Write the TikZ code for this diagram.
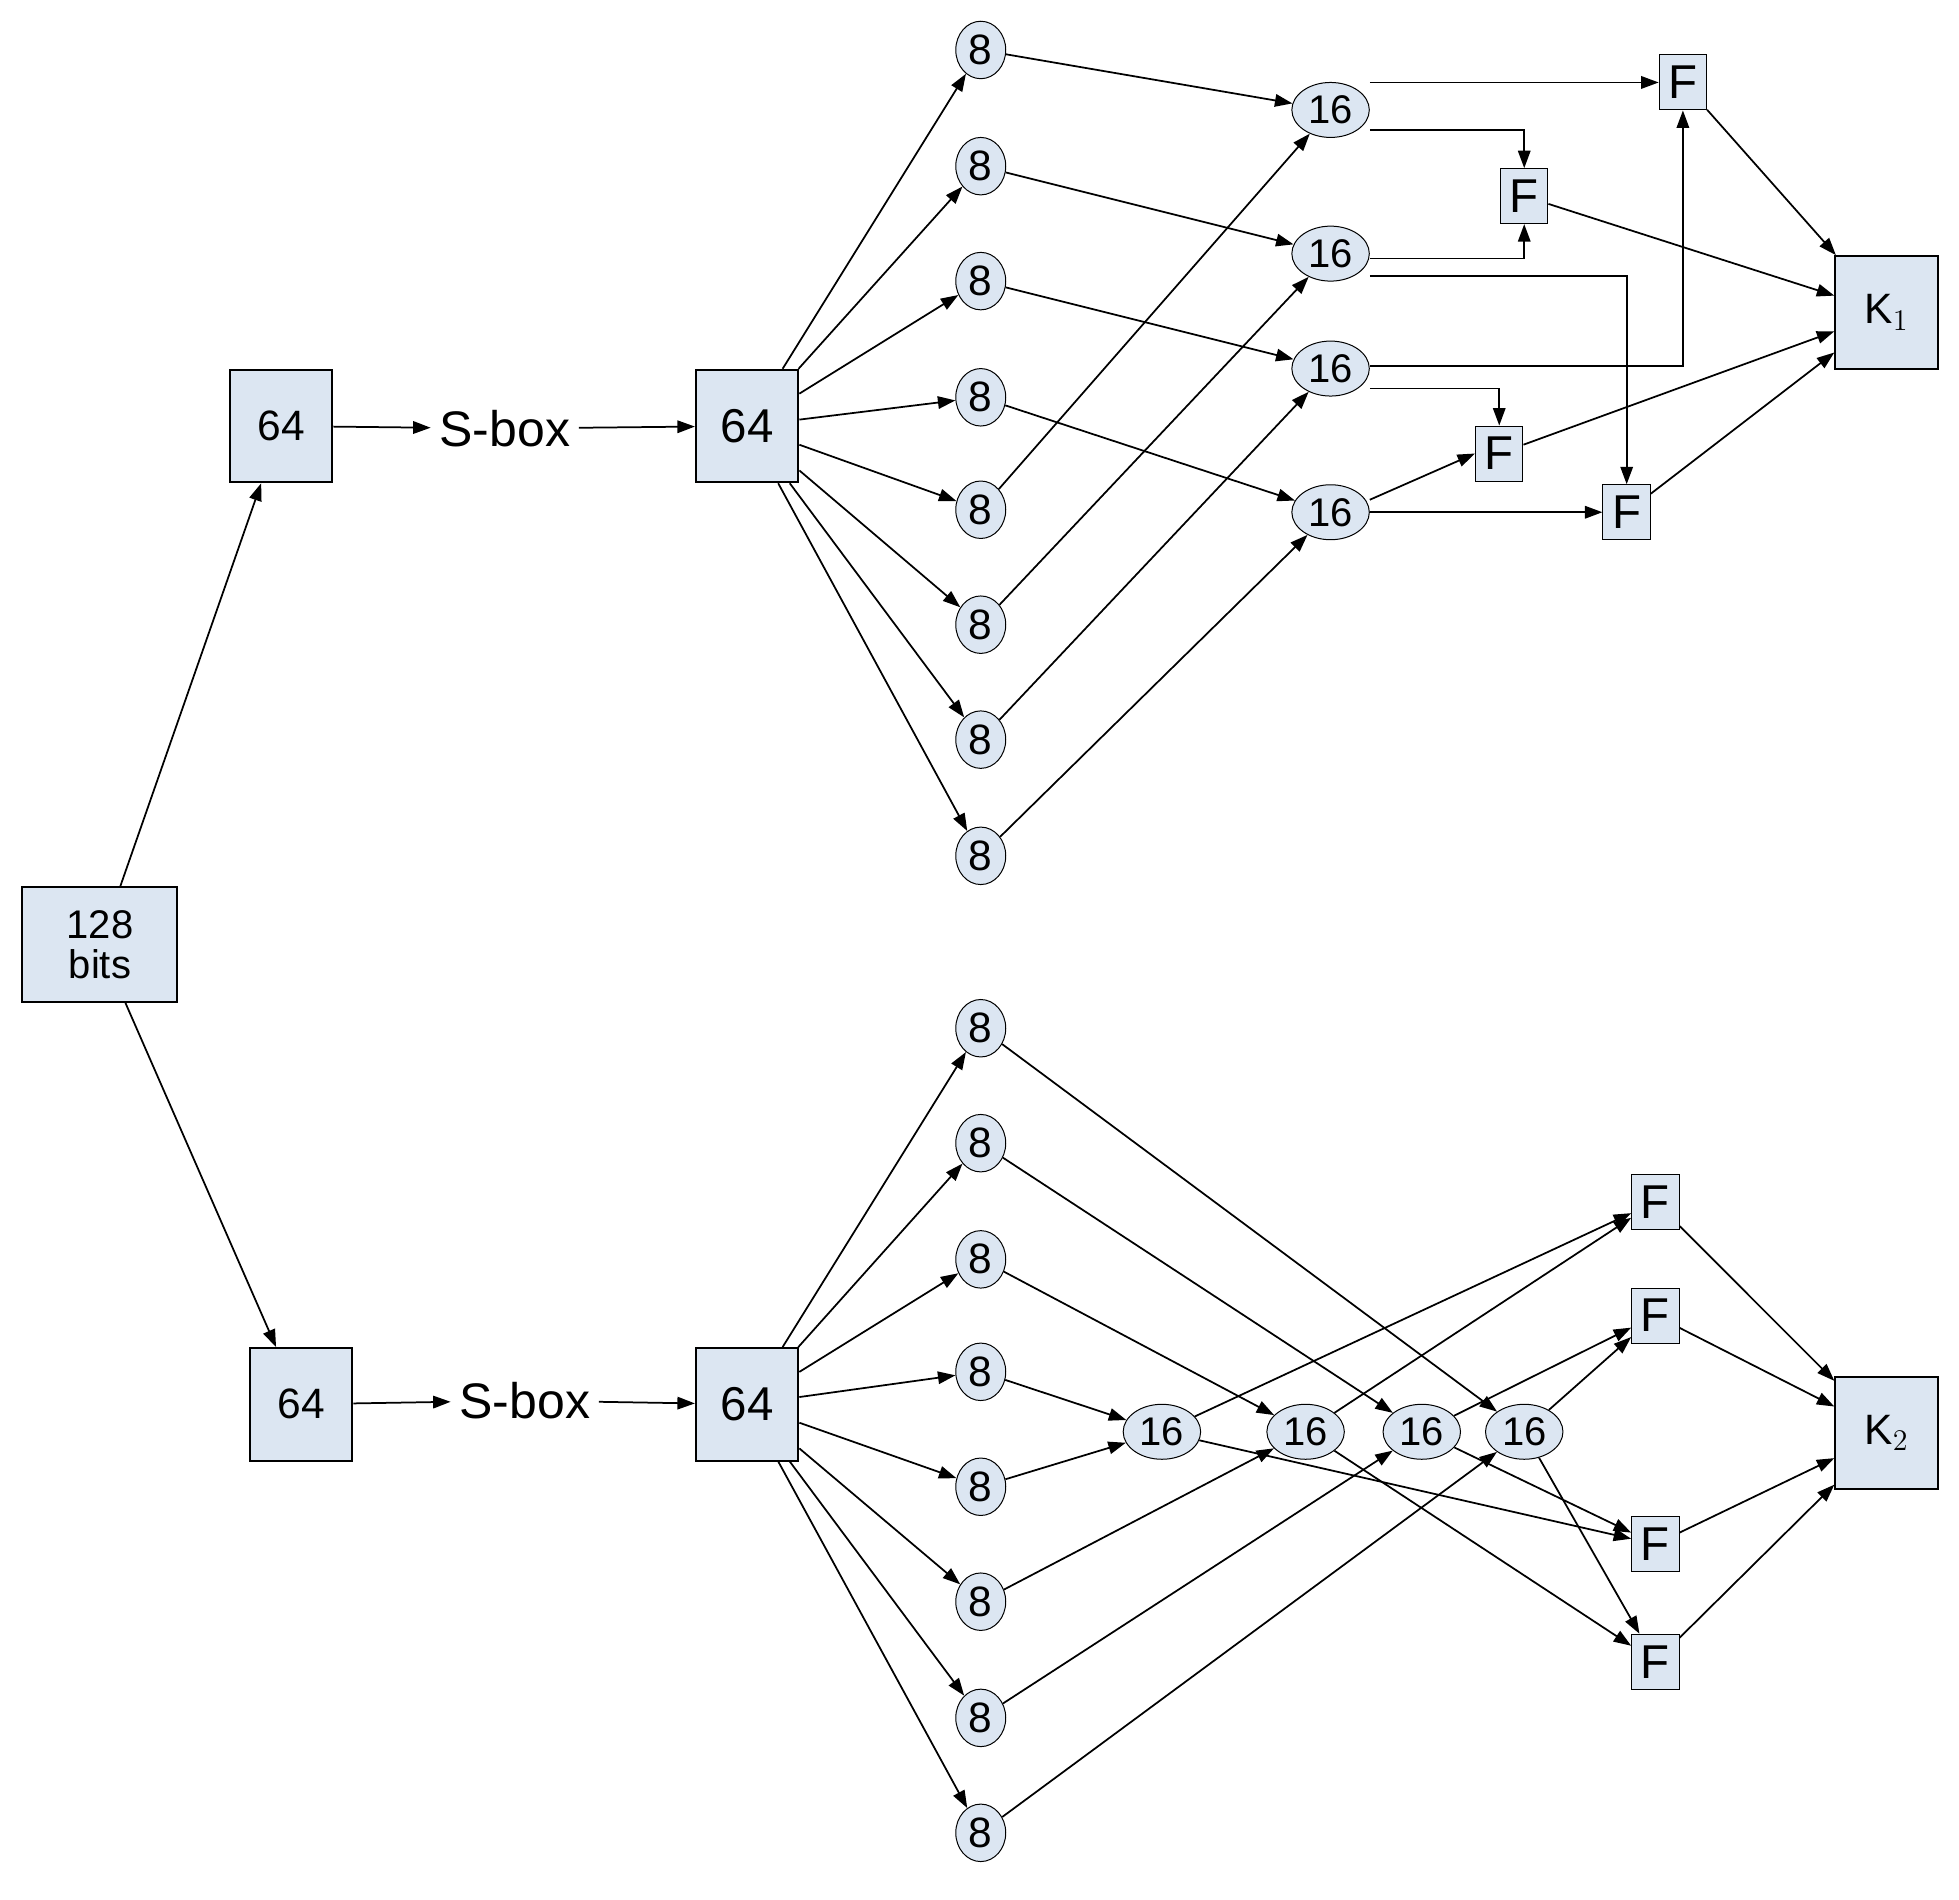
\documentclass[tikz,border=0pt]{standalone}
\usepackage{fontspec}
\setmainfont{Liberation Sans}
\usetikzlibrary{arrows.meta,shapes.geometric}
\definecolor{fillb}{HTML}{DCE6F2}
\begin{document}
\begin{tikzpicture}[x=0.5pt,y=-0.5pt,
  box/.style={draw,fill=fillb,line width=0.8pt,minimum width=41pt,minimum height=45pt,inner sep=0pt,font=\fontsize{17}{18}\selectfont},
  big/.style={box,font=\fontsize{19}{20}\selectfont},
  e8/.style={draw,fill=fillb,ellipse,minimum width=20pt,minimum height=23pt,inner sep=0pt,font=\fontsize{17}{18}\selectfont},
  e16/.style={draw,fill=fillb,ellipse,minimum width=31pt,minimum height=22pt,inner sep=0pt,font=\fontsize{16}{17}\selectfont},
  fb/.style={draw,fill=fillb,minimum width=19pt,minimum height=22pt,inner sep=0pt,font=\fontsize{19}{20}\selectfont},
  ar/.style={-{Triangle[length=7pt,width=5pt]},line width=0.7pt},
  >={Triangle[length=7pt,width=5pt]}]
\useasboundingbox (0,0) rectangle (1568,1520);
\node[box,minimum width=62pt,minimum height=46pt,align=center,font=\fontsize{16}{16}\selectfont] (in) at (80,756) {128\\bits};
\node[box] (a1) at (225,341) {64};
\node[font=\fontsize{20}{20}\selectfont] (sb1) at (404,343) {S-box};
\node[big] (b1) at (598,341) {64};
\node[box] (a2) at (241,1124) {64};
\node[font=\fontsize{20}{20}\selectfont] (sb2) at (420,1121) {S-box};
\node[big] (b2) at (598,1124) {64};
\draw[ar] (in) -- (a1); \draw[ar] (in) -- (a2);
\draw[ar] (a1) -- (sb1); \draw[ar] (sb1) -- (b1);
\draw[ar] (a2) -- (sb2); \draw[ar] (sb2) -- (b2);
% top 8s
\foreach \i/\y in {1/40,2/133,3/225,4/318,5/408,6/500,7/592,8/685}{
  \node[e8] (t\i) at (785,\y) {8}; \draw[ar] (b1) -- (t\i);}
\node[e16] (s1) at (1065,88) {16};
\node[e16] (s2) at (1065,203) {16};
\node[e16] (s3) at (1065,295) {16};
\node[e16] (s4) at (1065,410) {16};
\foreach \a/\b in {1/1,2/2,3/3,4/4,5/1,6/2,7/3,8/4}{\draw[ar] (t\a) -- (s\b);}
\node[fb] (f1) at (1347,66) {F};
\node[fb] (f2) at (1220,157) {F};
\node[fb] (f3) at (1200,363) {F};
\node[fb] (f4) at (1302,410) {F};
\node[box] (k1) at (1510,250) {K$_1$};
\draw[ar] (s1.east |- f1) -- (f1);
\draw[ar] ([yshift=-8pt]s1.east) -| (f2.north);
\draw[ar] ([yshift=-2pt]s2.east) -| (f2.south);
\draw[ar] ([yshift=-9pt]s2.east) -| (f4.north);
\draw[ar] ([yshift=1pt]s3.east) -| (f1.south);
\draw[ar] ([yshift=-8pt]s3.east) -| (f3.north);
\draw[ar] ([yshift=5pt]s4.east) -- (f3.west);
\draw[ar] (s4.east) -- (f4.west);
\foreach \f in {f1,f2,f3,f4}{\draw[ar] (\f) -- (k1);}
% bottom
\foreach \i/\y in {1/823,2/915,3/1008,4/1098,5/1190,6/1282,7/1375,8/1467}{
  \node[e8] (u\i) at (785,\y) {8}; \draw[ar] (b2) -- (u\i);}
\node[e16] (v1) at (930,1146) {16};
\node[e16] (v2) at (1045,1146) {16};
\node[e16] (v3) at (1138,1146) {16};
\node[e16] (v4) at (1220,1146) {16};
\foreach \a/\b in {4/1,5/1,6/2,7/3,8/4,1/4,2/3,3/2}{\draw[ar] (u\a) -- (v\b);}
\node[fb] (g1) at (1325,962) {F};
\node[fb] (g2) at (1325,1053) {F};
\node[fb] (g3) at (1325,1236) {F};
\node[fb] (g4) at (1325,1330) {F};
\node[box] (k2) at (1510,1147) {K$_2$};
\foreach \a/\b in {1/1,1/3,2/1,2/4,3/2,3/3,4/2,4/4}{\draw[ar] (v\a) -- (g\b);}
\foreach \f in {g1,g2,g3,g4}{\draw[ar] (\f) -- (k2);}
\end{tikzpicture}
\end{document}
